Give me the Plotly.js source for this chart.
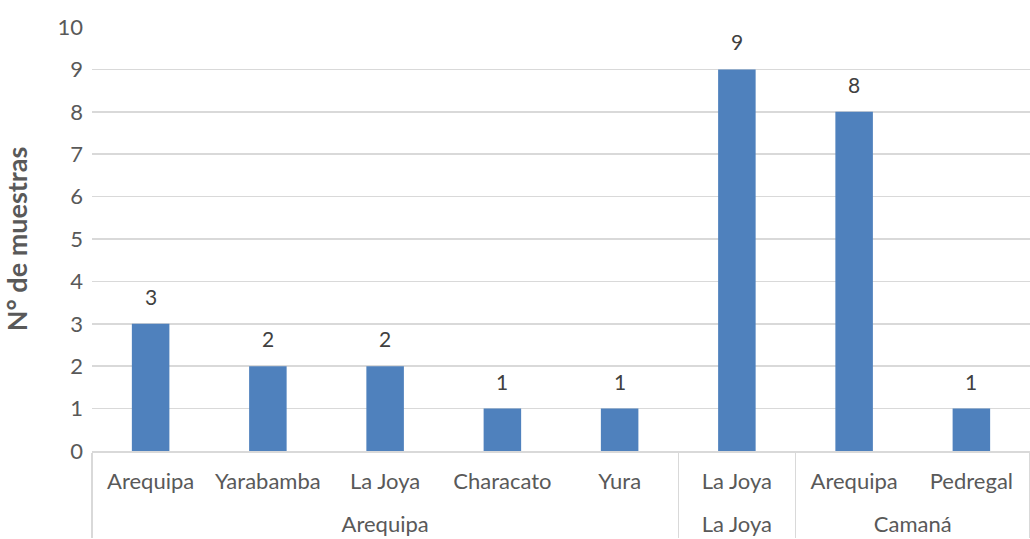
<!DOCTYPE html>
<html>
<head>
<meta charset="utf-8">
<script src="https://cdn.plot.ly/plotly-3.0.1.min.js"></script>
<style>html,body{margin:0;padding:0;background:#fff;}#chart{width:1030px;height:539px;}</style>
</head>
<body>
<div id="chart"></div>
<script>
const provincias = ["Arequipa","Arequipa","Arequipa","Arequipa","Arequipa","La Joya","Camaná","Camaná"];
const distritos = ["Arequipa","Yarabamba","La Joya","Characato","Yura","La Joya","Arequipa","Pedregal"];
const muestras = [3,2,2,1,1,9,8,1];
const yTicks = [0,1,2,3,4,5,6,7,8,9,10];

const fontFam = "Lato, 'Open Sans', sans-serif";
// invisible tall spacer widens the gap between the two label levels
const spacer = "<span style='font-size:43px'>&#8202;</span>";
const childLabels = distritos.map(d => spacer + d + spacer);

const annotations = muestras.map((v, i) => ({
  x: i, y: v, xref: "x", yref: "y",
  text: String(v), showarrow: false,
  yanchor: "bottom", yshift: 13,
  font: {family: fontFam, size: 21, color: "#404040"}
}));

Plotly.newPlot("chart", [{
  type: "bar",
  x: [provincias, childLabels],
  y: muestras,
  marker: {color: "#4F81BD"},
  width: 0.32,
  hoverinfo: "none"
}], {
  width: 1030, height: 539,
  margin: {l: 92, r: 0, t: 27, b: 88},
  paper_bgcolor: "#fff", plot_bgcolor: "#fff",
  showlegend: false,
  annotations: annotations,
  xaxis: {
    type: "multicategory",
    showline: true, linecolor: "#D9D9D9", linewidth: 1.5,
    showgrid: false,
    tickangle: 0,
    tickfont: {family: fontFam, size: 22, color: "#595959"},
    showdividers: true, dividercolor: "#D9D9D9", dividerwidth: 1.5,
    ticks: "",
    ticklabelstandoff: 10
  },
  yaxis: {
    range: [0, 10],
    tickvals: yTicks,
    showgrid: true, gridcolor: "#D9D9D9", gridwidth: 1.5,
    zeroline: false,
    showline: false,
    ticks: "", ticklen: 0,
    ticklabelstandoff: 8,
    tickfont: {family: fontFam, size: 22, color: "#595959"},
    title: {text: "N° de muestras", font: {family: fontFam, size: 27, color: "#595959", weight: "bold"}, standoff: 22}
  }
}, {displayModeBar: false, staticPlot: true});
</script>
</body>
</html>
